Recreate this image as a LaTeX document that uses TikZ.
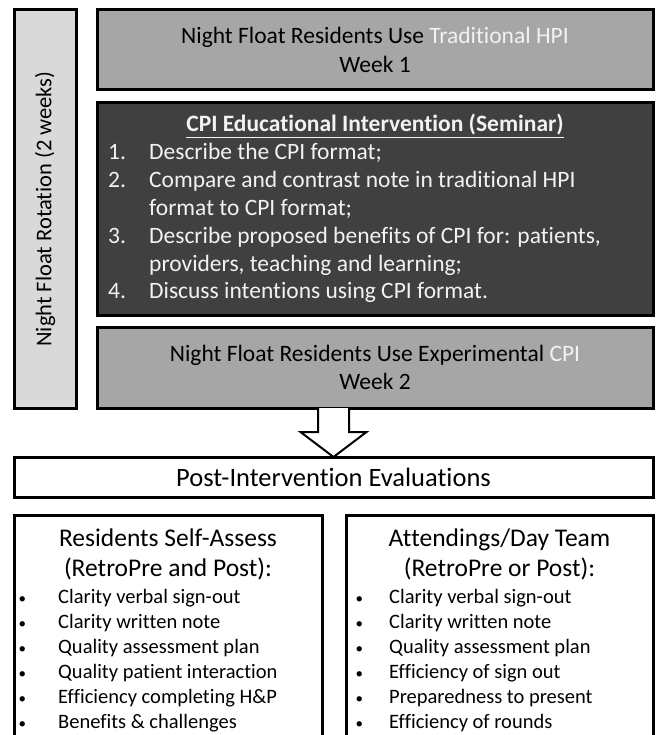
\documentclass[tikz,border=0pt]{standalone}
\usepackage{fontspec}
\setmainfont{Carlito}[Ligatures={NoCommon,NoRequired,NoContextual}]
\usetikzlibrary{calc}
% keep f/t followed by f, t, i, l as separate glyphs (no ligatures)
\newXeTeXintercharclass\clsf
\newXeTeXintercharclass\clst
\newXeTeXintercharclass\clsi
\newXeTeXintercharclass\clsl
\XeTeXcharclass`f=\clsf
\XeTeXcharclass`t=\clst
\XeTeXcharclass`i=\clsi
\XeTeXcharclass`l=\clsl
\XeTeXinterchartoks\clsf\clsf={\kern0pt }
\XeTeXinterchartoks\clsf\clst={\kern0pt }
\XeTeXinterchartoks\clsf\clsi={\kern0pt }
\XeTeXinterchartoks\clsf\clsl={\kern0pt }
\XeTeXinterchartoks\clst\clsf={\kern0pt }
\XeTeXinterchartoks\clst\clst={\kern0pt }
\XeTeXinterchartoks\clst\clsi={\kern0pt }
\XeTeXinterchartoks\clst\clsl={\kern0pt }
\XeTeXinterchartokenstate=1
\definecolor{lightbox}{HTML}{D9D9D9}
\definecolor{midbox}{HTML}{A6A6A6}
\definecolor{darkbox}{HTML}{404040}
\definecolor{softwhite}{HTML}{F2F2F2}
% small bullet used in the evaluation lists
\newcommand{\evalbullet}[1]{\makebox[#1][l]{\raisebox{0.5pt}{\fontsize{15}{15}\selectfont •}}}
\begin{document}
\begin{tikzpicture}[x=1pt,y=-1pt,
  panel/.style={draw=black, line width=3pt, inner sep=0pt, outer sep=0pt},
  phase/.style={panel, fill=midbox, minimum width=556pt, align=center,
    font=\fontsize{23.5}{28.5}\selectfont},
  seminartext/.style={text=softwhite, inner sep=0pt, font=\fontsize{23.5}{27.8}\selectfont},
  evalhead/.style={inner sep=0pt, anchor=base, font=\fontsize{25.5}{30.5}\selectfont},
  evallist/.style={inner sep=0pt, anchor=base west, font=\fontsize{20.5}{25}\selectfont},
  blockarrow/.style={draw=black, line width=2pt, fill=white, line join=miter}]
\useasboundingbox (0,0) rectangle (656,735);
\begin{scope}
\clip (0,0) rectangle (656,735);

% rotation bar on the left
\node[panel, fill=lightbox, rotate=90, minimum width=398pt, minimum height=62pt,
  font=\fontsize{22.5}{27}\selectfont] (rot) at (45,209) {Night Float Rotation (2 weeks)};

% week 1
\node[phase, minimum height=80pt] (wk1) at (375,50)
  {Night Float Residents Use \textcolor{softwhite}{Traditional HPI}\\Week 1};

% seminar
\node[panel, fill=darkbox, minimum width=556pt, minimum height=212pt] (sem) at (375,209) {};
\node[seminartext, anchor=base] (semtitle) at (375,132)
  {\textbf{\underline{CPI Educational Intervention (Seminar)}}};
\node[seminartext, anchor=base west] (semlist) at (108,160)
  {\begin{tabular}[t]{@{}l@{}}
   \makebox[41pt][l]{1.}Describe the CPI format;\\
   \makebox[41pt][l]{2.}Compare and contrast note in traditional HPI\\
   \makebox[41pt][l]{}format to CPI format;\\
   \makebox[41pt][l]{3.}Describe proposed benefits of CPI for: patients,\\
   \makebox[41pt][l]{}providers, teaching and learning;\\
   \makebox[41pt][l]{4.}Discuss intentions using CPI format.
   \end{tabular}};

% week 2
\node[phase, minimum height=81pt] (wk2) at (375,367.5)
  {Night Float Residents Use Experimental \textcolor{softwhite}{CPI}\\Week 2};

% evaluations
\node[panel, minimum width=639pt, minimum height=40pt,
  font=\fontsize{26.5}{31}\selectfont] (post) at (333.5,477) {Post-Intervention Evaluations};

% block arrow from week 2 down to the evaluations
\coordinate (shafttop) at (post.north |- wk2.south);
\draw[blockarrow] ($(shafttop)+(-15.5,0)$) -- ($(shafttop)+(-15.5,24)$)
  -- ($(shafttop)+(-33,24)$) -- (post.north) -- ($(shafttop)+(33,24)$)
  -- ($(shafttop)+(15.5,24)$) -- ($(shafttop)+(15.5,0)$);

% residents' self-assessment
\node[panel, anchor=north west, minimum width=308pt, minimum height=240pt] (self) at (14,515) {};
\node[evalhead] (selfhead) at (168,546)
  {\begin{tabular}[t]{@{}c@{}}Residents Self-Assess\\(RetroPre and Post):\end{tabular}};
\node[evallist] (selflist) at (18.5,603.5)
  {\begin{tabular}[t]{@{}l@{}}
   \evalbullet{39.5pt}Clarity verbal sign-out\\
   \evalbullet{39.5pt}Clarity written note\\
   \evalbullet{39.5pt}Quality assessment plan\\
   \evalbullet{39.5pt}Quality patient interaction\\
   \evalbullet{39.5pt}Efficiency completing H\&P\\
   \evalbullet{39.5pt}Benefits \& challenges
   \end{tabular}};

% attendings / day team
\node[panel, anchor=north west, minimum width=307pt, minimum height=240pt] (att) at (346,515) {};
\node[evalhead] (atthead) at (499.5,546)
  {\begin{tabular}[t]{@{}c@{}}Attendings/Day Team\\(RetroPre or Post):\end{tabular}};
\node[evallist] (attlist) at (355.5,603.5)
  {\begin{tabular}[t]{@{}l@{}}
   \evalbullet{33.5pt}Clarity verbal sign-out\\
   \evalbullet{33.5pt}Clarity written note\\
   \evalbullet{33.5pt}Quality assessment plan\\
   \evalbullet{33.5pt}Efficiency of sign out\\
   \evalbullet{33.5pt}Preparedness to present\\
   \evalbullet{33.5pt}Efficiency of rounds
   \end{tabular}};
\end{scope}
\end{tikzpicture}
\end{document}
